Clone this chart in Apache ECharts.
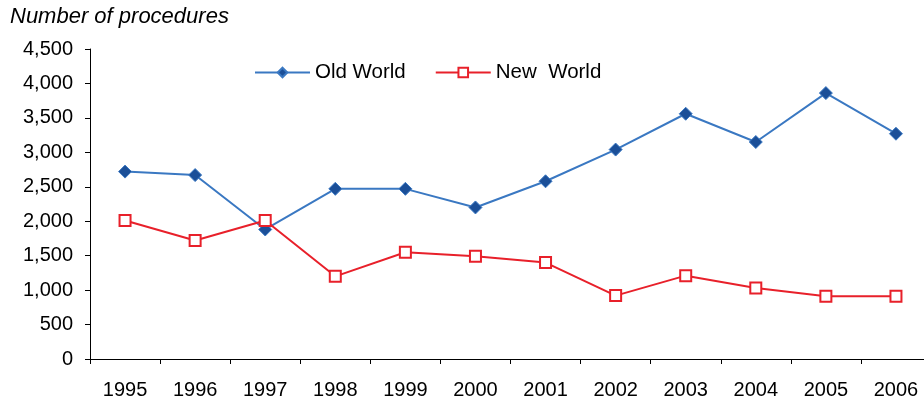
<!DOCTYPE html>
<html><head><meta charset="utf-8">
<script src="https://cdn.jsdelivr.net/npm/echarts@6/dist/echarts.min.js"></script>
<style>html,body{margin:0;padding:0;background:#fff;overflow:hidden;width:924px;height:400px}#c{width:931px;height:400px}</style>
</head><body><div id="c"></div>
<script>
const years = ['1995','1996','1997','1998','1999','2000','2001','2002','2003','2004','2005','2006'];
const oldWorld = [2720,2670,1880,2470,2470,2200,2580,3040,3560,3150,3860,3270];
const newWorld = [2010,1720,2010,1200,1550,1490,1400,920,1210,1030,910,910];
const yTitle = 'Number of procedures';

const chart = echarts.init(document.getElementById('c'), null, {renderer:'canvas'});
const font = 'Liberation Sans, Arial, sans-serif';
chart.setOption({
  animation:false,
  textStyle:{fontFamily:font},
  title:{text:yTitle,left:10,top:6,padding:0,textStyle:{fontFamily:font,fontStyle:'italic',fontWeight:'normal',fontSize:22,color:'#000'}},
  legend:{top:57,left:249,itemWidth:55,itemHeight:12,itemGap:29,
    textStyle:{fontFamily:font,fontSize:20.5,color:'#000'},
    data:[{name:'Old World'},{name:'New  World'}]},
  grid:{left:90,right:0,top:49,bottom:41},
  xAxis:{type:'category',data:years,boundaryGap:true,
    axisLine:{lineStyle:{color:'#000',width:1}},
    axisTick:{show:true,length:5,lineStyle:{color:'#000'}},
    axisLabel:{color:'#000',fontSize:20,margin:21,fontFamily:font},
    splitLine:{show:false}},
  yAxis:{type:'value',min:0,max:4500,interval:500,
    axisLine:{show:true,lineStyle:{color:'#000',width:1}},
    axisTick:{show:true,length:5,lineStyle:{color:'#000'}},
    axisLabel:{color:'#000',fontSize:20,margin:17,fontFamily:font,
      formatter:v=>v.toLocaleString('en-US')},
    splitLine:{show:false}},
  series:[
    {name:'Old World',type:'line',data:oldWorld,symbol:'diamond',symbolSize:13,
      lineStyle:{color:'#3a78c2',width:2},
      itemStyle:{color:'#1b4f98',borderColor:'#3a78c2',borderWidth:1}},
    {name:'New  World',type:'line',data:newWorld,symbol:'rect',symbolSize:11,
      lineStyle:{color:'#e8202a',width:2},
      itemStyle:{color:'#fff',borderColor:'#e8202a',borderWidth:2}}
  ]
});
</script></body></html>
